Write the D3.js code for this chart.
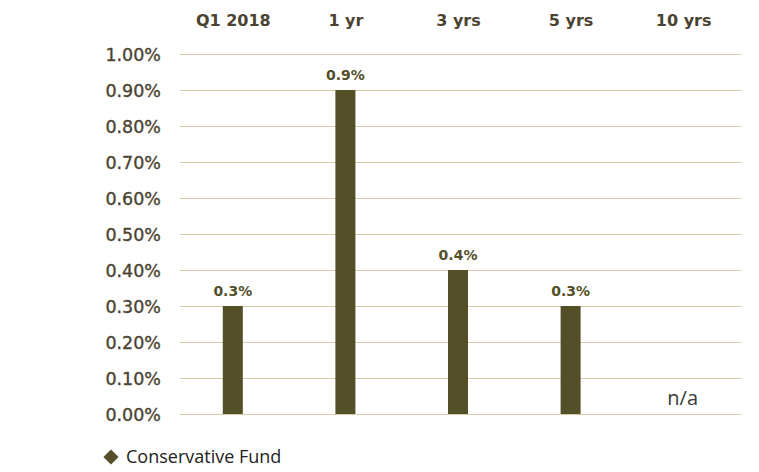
<!DOCTYPE html>
<html><head><meta charset="utf-8">
<script src="https://cdn.jsdelivr.net/npm/d3@7/dist/d3.min.js"></script>
<style>body{margin:0;background:#fff}svg{display:block}</style>
</head><body>
<svg id="c" width="759" height="472"></svg>
<script>
const categories = ["Q1 2018", "1 yr", "3 yrs", "5 yrs", "10 yrs"];
const values = [0.3, 0.9, 0.4, 0.3, null];
const valueLabels = ["0.3%", "0.9%", "0.4%", "0.3%", "n/a"];
const yTicks = [0, 0.1, 0.2, 0.3, 0.4, 0.5, 0.6, 0.7, 0.8, 0.9, 1.0];
const seriesName = "Conservative Fund";

const svg = d3.select("#c");
const x = d3.scaleBand().domain(categories).range([178, 741]).paddingInner(0).paddingOuter(0);
const y = d3.scaleLinear().domain([0, 1]).range([414, 54]);
const font = "'DejaVu Sans', Verdana, sans-serif";
const barColor = "#534f28";
const textColor = "#4b4331";

// gridlines
svg.append("g").selectAll("line").data(yTicks).join("line")
  .attr("x1", 180).attr("x2", 741)
  .attr("y1", d => y(d) + 0.5).attr("y2", d => y(d) + 0.5)
  .attr("stroke", "#d6cba9").attr("stroke-width", 1.2);

// y axis labels
const yAxis = d3.axisLeft(y).tickValues(yTicks).tickSize(0).tickPadding(0)
  .tickFormat(d => d.toFixed(2) + "%");
const gy = svg.append("g").attr("transform", "translate(161,0)").call(yAxis);
gy.select(".domain").remove();
gy.selectAll("text").attr("font-family", font).attr("font-size", 17.5).attr("font-weight", 400)
  .attr("fill", textColor).attr("stroke", textColor).attr("stroke-width", 0.35)
  .attr("dy", "0.36em");

// top category labels
const xAxis = d3.axisTop(x).tickSize(0).tickPadding(0);
const gx = svg.append("g").attr("transform", "translate(-1,26)").call(xAxis);
gx.select(".domain").remove();
gx.selectAll("text").attr("font-family", font).attr("font-size", 16).attr("font-weight", 700)
  .attr("fill", textColor);

// bars
const barW = 20;
const data = categories.map((c, i) => ({c, v: values[i], label: valueLabels[i]}));
svg.append("g").selectAll("rect").data(data.filter(d => d.v != null)).join("rect")
  .attr("x", d => x(d.c) + x.bandwidth() / 2 - barW / 2 - 1.5)
  .attr("width", barW)
  .attr("y", d => y(d.v))
  .attr("height", d => y(0) - y(d.v))
  .attr("fill", barColor);

// value labels
svg.append("g").selectAll("text").data(data.filter(d => d.v != null)).join("text")
  .attr("x", d => x(d.c) + x.bandwidth() / 2 - 1.5)
  .attr("y", d => y(d.v) - 10)
  .attr("text-anchor", "middle")
  .attr("font-family", font).attr("font-size", 14).attr("font-weight", 700)
  .attr("fill", barColor)
  .text(d => d.label);

// n/a label
svg.append("g").selectAll("text").data(data.filter(d => d.v == null)).join("text")
  .attr("x", d => x(d.c) + x.bandwidth() / 2 - 2)
  .attr("y", y(0) - 9)
  .attr("text-anchor", "middle")
  .attr("font-family", "'Open Sans', sans-serif").attr("font-size", 20)
  .attr("fill", "#3a3a36")
  .text(d => d.label);

// legend
const lg = svg.append("g").attr("transform", "translate(111,457)");
lg.append("path").attr("d", d3.symbol(d3.symbolSquare, 115)())
  .attr("transform", "rotate(45)")
  .attr("fill", barColor);
lg.append("text").attr("x", 15).attr("y", 0).attr("dy", "0.36em")
  .attr("font-family", "'Open Sans', sans-serif").attr("font-size", 18)
  .attr("fill", "#222").text(seriesName);
</script>
</body></html>
